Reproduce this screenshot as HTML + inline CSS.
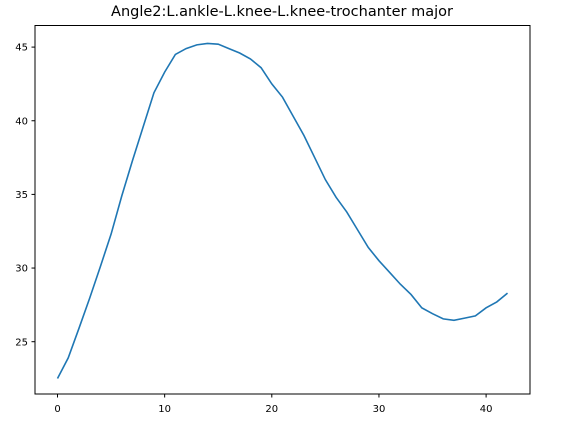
<!DOCTYPE html>
<html><head><meta charset="utf-8"><style>
body{margin:0;background:#fff;}
svg text{font-family:"DejaVu Sans","Liberation Sans",sans-serif;}
</style></head><body>
<svg id="chart" width="568" height="419" xmlns="http://www.w3.org/2000/svg">
<rect width="568" height="419" fill="#fff"/>
<text x="282" y="16" text-anchor="middle" font-size="14.5">Angle2:L.ankle-L.knee-L.knee-trochanter major</text>
<g id="axes"></g>
<polyline id="series" fill="none" stroke="#1f77b4" stroke-width="1.6"/>
<rect x="35" y="25.5" width="495" height="368.5" fill="none" stroke="#000" stroke-width="1"/>
</svg>
<script>
const xValues=[0,1,2,3,4,5,6,7,8,9,10,11,12,13,14,15,16,17,18,19,20,21,22,23,24,25,26,27,28,29,30,31,32,33,34,35,36,37,38,39,40,41,42];
const yValues=[22.5,23.9,25.9,27.95,30.1,32.3,34.9,37.3,39.6,41.9,43.3,44.5,44.9,45.15,45.25,45.2,44.9,44.6,44.2,43.6,42.5,41.6,40.3,39.0,37.5,36.0,34.8,33.8,32.6,31.4,30.5,29.7,28.9,28.2,27.3,26.9,26.55,26.45,26.6,26.75,27.3,27.7,28.3];
const xTicks=[0,10,20,30,40];
const yTicks=[25,30,35,40,45];
function xs(v){return 57.5+v*10.715;}
function ys(v){return 341.7-(v-25)*14.73;}
const ns="http://www.w3.org/2000/svg";
const ax=document.getElementById('axes');
xTicks.forEach(t=>{
 const l=document.createElementNS(ns,'line');
 
 
 l.setAttribute('x1',xs(t));l.setAttribute('x2',xs(t));l.setAttribute('y1',394);l.setAttribute('y2',397.5);l.setAttribute('stroke','#000');
 ax.appendChild(l);
 const tx=document.createElementNS(ns,'text');
 
 
 tx.setAttribute('x',xs(t));tx.setAttribute('y',412);tx.setAttribute('text-anchor','middle');tx.setAttribute('font-size','10');
 tx.textContent=t;ax.appendChild(tx);
});
yTicks.forEach(t=>{
 const l=document.createElementNS(ns,'line');
 
 
 l.setAttribute('x1',31.5);l.setAttribute('x2',35);l.setAttribute('y1',ys(t));l.setAttribute('y2',ys(t));l.setAttribute('stroke','#000');
 ax.appendChild(l);
 const tx=document.createElementNS(ns,'text');
 
 
 tx.setAttribute('x',28);tx.setAttribute('y',ys(t)+3.6);tx.setAttribute('text-anchor','end');tx.setAttribute('font-size','10');
 tx.textContent=t;ax.appendChild(tx);
});
document.getElementById('series').setAttribute('points',xValues.map((x,i)=>xs(x)+','+ys(yValues[i])).join(' '));
</script>
</body></html>
